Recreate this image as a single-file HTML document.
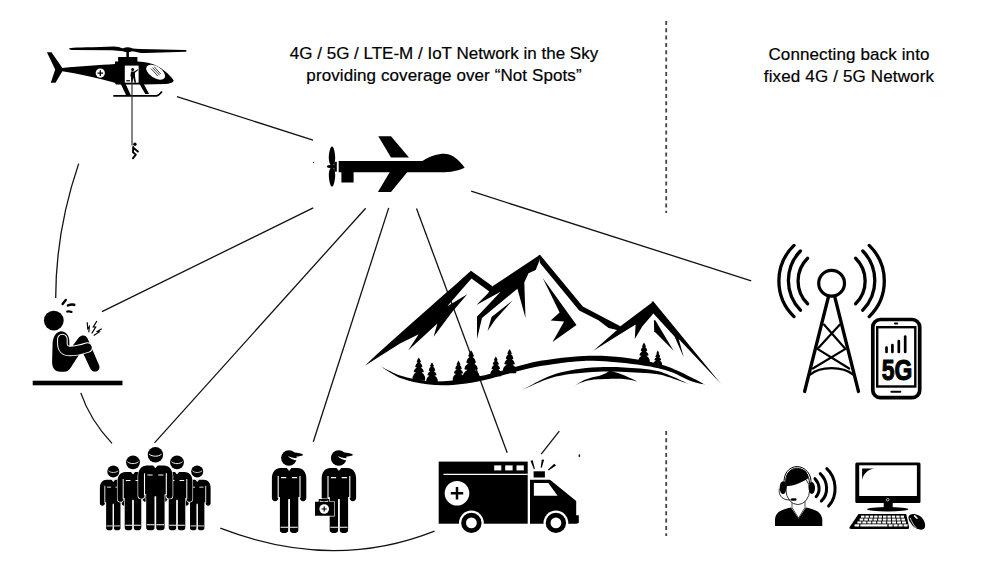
<!DOCTYPE html>
<html><head><meta charset="utf-8">
<style>
html,body{margin:0;padding:0;background:#fff;}
body{width:1000px;height:562px;position:relative;overflow:hidden;font-family:"Liberation Sans",sans-serif;color:#000;}
.t{position:absolute;font-size:17px;line-height:22px;white-space:nowrap;text-align:center;-webkit-text-stroke:0.2px #000;}
svg{position:absolute;left:0;top:0;}
</style></head>
<body>
<div class="t" id="t1" style="left:244px;top:42.5px;width:400px;line-height:22.2px;">4G / 5G / LTE-M / IoT Network in the Sky<br><span style="letter-spacing:0.09px">providing coverage over “Not Spots”</span></div>
<div class="t" id="t2" style="left:749px;top:43.8px;width:200px;line-height:22.2px;"><span style="letter-spacing:0.12px">Connecting back into</span><br><span style="letter-spacing:0.15px">fixed 4G / 5G Network</span></div>
<svg width="1000" height="562" viewBox="0 0 1000 562">


<g stroke="#444" stroke-width="1.8" stroke-dasharray="4 3.3">
<line x1="666.2" y1="21" x2="666.2" y2="213"/>
<line x1="666.2" y1="431" x2="666.2" y2="536"/>
</g>
<g stroke="#111" stroke-width="1.3" fill="none">
<line x1="177" y1="96.6" x2="313" y2="140.2"/>
<path d="M78.7,163.6 Q55.7,231 55.7,298"/>
<line x1="102" y1="311.6" x2="313.2" y2="207.9"/>
<line x1="365.7" y1="208.2" x2="154.5" y2="442.9"/>
<line x1="388.7" y1="207.9" x2="313.3" y2="441.8"/>
<line x1="416.5" y1="208.5" x2="507.2" y2="452.8"/>
<line x1="471.2" y1="191.2" x2="751.2" y2="280.8"/>
<path d="M80.8,392.9 Q90,420 112,443.4"/>
<path d="M220.3,528.2 Q332.6,571.6 434.5,531.1"/>
<line x1="559.3" y1="431.2" x2="541.2" y2="454.1"/>
</g>
<g id="drone" fill="#000">
<path d="M332,146.6 C334,146.6 335.2,154 335.2,158 C335.2,162 334,165 332,166.6 C330,165 328.8,162 328.8,158 C328.8,154 330,146.6 332,146.6Z M332,166.6 C334,168 335.2,171 335.2,175 C335.2,179 334,186.7 332,186.7 C330,186.7 328.8,179 328.8,175 C328.8,171 330,168 332,166.6Z"/>
<path d="M326.8,166.4 C326.8,165 329,164.9 332,164.9 L336,164.9 L336,168 L332,168 C329,168 326.8,167.8 326.8,166.4Z"/>
<rect x="334.2" y="161.8" width="2.6" height="9.9"/>
<path d="M338.7,161.1 L422.4,161.1 C430,156 438,153.8 444,153.8 C452,153.8 459,160 464.7,167.7 C458,170.5 452,172.3 440,172.3 L407.2,172.3 L391,191.9 L377.9,191.9 L389.7,172.3 L353.6,172.3 L353.6,182.6 L341.4,182.6 L341.4,172.3 L338.7,172.3Z"/>
<path d="M378.3,136.2 L391,136.2 L409,157.6 L391,157.6Z"/>
<circle cx="313.5" cy="162.3" r="0.6"/>
</g>
<g id="heli">
<path fill="#000" d="M46.9,52.3 L51.5,52.3 L62.4,67.9 C80,66.5 100,65 115,64 L115,61.4 L118.1,61.4 L118.1,57.1 L137.4,57.1 L137.4,61.4 C146,61.6 153,63.5 158,66.5 C165,70.5 171,76 173.7,80.5 C173.5,82 171,83.5 166,84 C158,84.4 150,84.4 142,84.4 L116,84.4 L114.8,82.7 C97,78 80,74 62.4,71.2 L55.5,82.7 L50.8,82.7 L55.2,69.5Z"/>
<path fill="#000" d="M69.1,48.6 C69.2,47.6 80,47.4 100,47 L114,46.5 C117.5,46.6 120,47.4 123,48.4 L123,51.2 C119,51 116,50.3 112,50.2 L72,50.1 C70,50 69,49.4 69.1,48.6Z"/>
<path fill="#000" d="M132,48.6 C135,48.8 137.5,48.8 140,48.9 L185.5,50.1 C187,50.5 187,51.5 185.8,51.8 L145,53 C140,53 136.5,52 132,51.2Z"/>
<ellipse cx="127.6" cy="49.8" rx="5.6" ry="2.5" fill="#000"/>
<rect x="126.4" y="51" width="2.5" height="6.5" fill="#000"/>
<path fill="#000" d="M120.8,84 L125.6,84 L131,95.5 L126.2,95.5Z M139.5,84 L143.8,84 L149.1,94 L145.3,94Z"/>
<path fill="none" stroke="#000" stroke-width="1.7" d="M113.3,95.8 L156,95.8 C158.5,95.8 160,94 161.9,91.4"/>
<rect x="124.8" y="65.6" width="13.8" height="17.1" fill="#fff"/>
<rect x="126.2" y="80.2" width="3.8" height="1.1" fill="#000"/>
<circle cx="132.6" cy="69.4" r="1.5" fill="#000"/>
<path fill="#000" d="M131,71.4 L134.2,71.4 L137.8,69.2 L138.2,70 L135,72.8 L135,76.5 L136,82.7 L134.6,82.7 L133.2,77.5 L132.5,82.7 L131.2,82.7 L131,76.5 L130.4,76.5 Z"/>
<ellipse cx="155.6" cy="72.2" rx="10.6" ry="5.8" transform="rotate(33 155.6 72.2)" fill="#fff"/>
<path stroke="#000" stroke-width="0.75" d="M152.6,67.6 L159.6,75.2 M151,68.6 L158,76.2 M154.2,66.8 L160.8,74"/>
<circle cx="100.3" cy="73.1" r="4.6" fill="#fff"/>
<path stroke="#000" stroke-width="1.3" d="M97.5,73.1 L103.1,73.1 M100.3,70.3 L100.3,75.9"/>
<line x1="132" y1="83" x2="132" y2="145.5" stroke="#333" stroke-width="1.2"/>
<circle cx="134.9" cy="144.2" r="1.7" fill="#000"/>
<path fill="none" stroke="#000" stroke-width="1.9" stroke-linecap="round" stroke-linejoin="round" d="M133.2,147 L133,152.2 L135.8,154.6 L132.9,158.3 M133.6,148 L137.9,151.6"/>
</g>
<g id="sad">
<circle cx="53.8" cy="320.6" r="9.9" fill="#000"/>
<path fill="#000" d="M61,331.3 C56,331.8 53,337 52.6,343 L52.1,362 C52.1,368 55,371.7 60,371.7 L64,371.7 C67,371.7 69,370.2 70.5,368 L79.5,354 L83.5,354 L89.8,367.5 C91,370.5 93,371.6 95.2,371.6 C98.5,371.4 100.2,368.5 99.2,365.5 L87.6,338.5 C86.3,335.6 84.2,335 82,335.6 C80,336.2 78.2,338 76.2,341 L69.5,350 L69.3,340 C68.8,335 65.5,331.3 61,331.3Z"/>
<path fill="none" stroke="#fff" stroke-width="10.6" stroke-linecap="round" stroke-linejoin="round" d="M62.4,339 L62.4,344 C62.6,348.5 65,351 70,351 C76,351 82,349.5 87.5,347.6"/>
<path fill="none" stroke="#000" stroke-width="8.6" stroke-linecap="round" stroke-linejoin="round" d="M62.4,339 L62.4,344 C62.6,348.5 65,351 70,351 C76,351 82,349.5 87.5,347.6"/>
<path fill="none" stroke="#000" stroke-linecap="round" d="M65.8,300 L62.6,304" stroke-width="2.4"/>
<path fill="none" stroke="#000" stroke-linecap="round" d="M68,305.4 C70,304.6 72.5,304.3 74.2,304.8" stroke-width="2.6"/>
<path fill="none" stroke="#000" stroke-linecap="round" d="M67.2,311.6 C68.5,311.2 70,311.3 71.6,311.9" stroke-width="2.1"/>
<path fill="none" stroke="#000" stroke-width="1.2" stroke-linejoin="miter" d="M87.2,322.2 L87.8,328.7 L89.3,326.7 L88.8,332.3 M96.9,321 L93.3,327 L95.7,327 L91.7,333.5 M101.7,328.7 L97.3,331.5 L99.3,331.9 L93.7,335.5"/>
<rect x="32.7" y="380.7" width="89.8" height="4.6" fill="#000"/>
</g>
<g id="team">
<g transform="translate(113.3,530.3) scale(0.78)">
<path fill="#000" stroke="#fff" stroke-width="1.3" paint-order="stroke" d="M-8.6,-64.9 L8.6,-64.9 C13.5,-64.9 17.2,-61 17.2,-54.5 L17.2,-34.8 C17.2,-32.8 15.8,-31.6 14,-31.6 C12.2,-31.6 10.8,-32.8 10.8,-34.8 L10.8,-36 L9.2,-36 L9.2,-2.8 C9.2,-1 8,0 6.5,0 L3.5,0 C1.8,0 0.8,-1 0.8,-2.8 L0.8,-34 L-0.8,-34 L-0.8,-2.8 C-0.8,-1 -1.8,0 -3.5,0 L-6.5,0 C-8,0 -9.2,-1 -9.2,-2.8 L-9.2,-36 L-10.8,-36 L-10.8,-34.8 C-10.8,-32.8 -12.2,-31.6 -14,-31.6 C-15.8,-31.6 -17.2,-32.8 -17.2,-34.8 L-17.2,-54.5 C-17.2,-61 -13.5,-64.9 -8.6,-64.9Z"/>
<circle cx="0" cy="-75.5" r="7.7" fill="#000" stroke="#fff" stroke-width="1.3" paint-order="stroke"/>
<g stroke="#fff" fill="none" stroke-width="1.1">
<path d="M-10.9,-57 L-10.9,-35"/><path d="M10.9,-57 L10.9,-35"/>
<path d="M0,-33 L0,-1"/>
<path d="M-8.6,-5.6 L-1,-5.6 M1,-5.6 L8.6,-5.6"/>
<path d="M-8,-55.3 L-2.8,-55.3 M2.8,-55.3 L8,-55.3"/>
<path d="M-2.2,-65.2 L0,-62.4 L2.2,-65.2Z" fill="#fff" stroke-width="0.6"/>
<path d="M-6.2,-76.2 C-3,-73.4 3,-73.4 6.2,-76.2" stroke-width="1"/>
</g>
</g>
<g transform="translate(197.2,530.3) scale(0.78)">
<path fill="#000" stroke="#fff" stroke-width="1.3" paint-order="stroke" d="M-8.6,-64.9 L8.6,-64.9 C13.5,-64.9 17.2,-61 17.2,-54.5 L17.2,-34.8 C17.2,-32.8 15.8,-31.6 14,-31.6 C12.2,-31.6 10.8,-32.8 10.8,-34.8 L10.8,-36 L9.2,-36 L9.2,-2.8 C9.2,-1 8,0 6.5,0 L3.5,0 C1.8,0 0.8,-1 0.8,-2.8 L0.8,-34 L-0.8,-34 L-0.8,-2.8 C-0.8,-1 -1.8,0 -3.5,0 L-6.5,0 C-8,0 -9.2,-1 -9.2,-2.8 L-9.2,-36 L-10.8,-36 L-10.8,-34.8 C-10.8,-32.8 -12.2,-31.6 -14,-31.6 C-15.8,-31.6 -17.2,-32.8 -17.2,-34.8 L-17.2,-54.5 C-17.2,-61 -13.5,-64.9 -8.6,-64.9Z"/>
<circle cx="0" cy="-75.5" r="7.7" fill="#000" stroke="#fff" stroke-width="1.3" paint-order="stroke"/>
<g stroke="#fff" fill="none" stroke-width="1.1">
<path d="M-10.9,-57 L-10.9,-35"/><path d="M10.9,-57 L10.9,-35"/>
<path d="M0,-33 L0,-1"/>
<path d="M-8.6,-5.6 L-1,-5.6 M1,-5.6 L8.6,-5.6"/>
<path d="M-8,-55.3 L-2.8,-55.3 M2.8,-55.3 L8,-55.3"/>
<path d="M-2.2,-65.2 L0,-62.4 L2.2,-65.2Z" fill="#fff" stroke-width="0.6"/>
<path d="M-6.2,-76.2 C-3,-73.4 3,-73.4 6.2,-76.2" stroke-width="1"/>
</g>
</g>
<g transform="translate(133,530.3) scale(0.9)">
<path fill="#000" stroke="#fff" stroke-width="1.3" paint-order="stroke" d="M-8.6,-64.9 L8.6,-64.9 C13.5,-64.9 17.2,-61 17.2,-54.5 L17.2,-34.8 C17.2,-32.8 15.8,-31.6 14,-31.6 C12.2,-31.6 10.8,-32.8 10.8,-34.8 L10.8,-36 L9.2,-36 L9.2,-2.8 C9.2,-1 8,0 6.5,0 L3.5,0 C1.8,0 0.8,-1 0.8,-2.8 L0.8,-34 L-0.8,-34 L-0.8,-2.8 C-0.8,-1 -1.8,0 -3.5,0 L-6.5,0 C-8,0 -9.2,-1 -9.2,-2.8 L-9.2,-36 L-10.8,-36 L-10.8,-34.8 C-10.8,-32.8 -12.2,-31.6 -14,-31.6 C-15.8,-31.6 -17.2,-32.8 -17.2,-34.8 L-17.2,-54.5 C-17.2,-61 -13.5,-64.9 -8.6,-64.9Z"/>
<circle cx="0" cy="-75.5" r="7.7" fill="#000" stroke="#fff" stroke-width="1.3" paint-order="stroke"/>
<g stroke="#fff" fill="none" stroke-width="1.1">
<path d="M-10.9,-57 L-10.9,-35"/><path d="M10.9,-57 L10.9,-35"/>
<path d="M0,-33 L0,-1"/>
<path d="M-8.6,-5.6 L-1,-5.6 M1,-5.6 L8.6,-5.6"/>
<path d="M-8,-55.3 L-2.8,-55.3 M2.8,-55.3 L8,-55.3"/>
<path d="M-2.2,-65.2 L0,-62.4 L2.2,-65.2Z" fill="#fff" stroke-width="0.6"/>
<path d="M-6.2,-76.2 C-3,-73.4 3,-73.4 6.2,-76.2" stroke-width="1"/>
</g>
</g>
<g transform="translate(177,530.3) scale(0.9)">
<path fill="#000" stroke="#fff" stroke-width="1.3" paint-order="stroke" d="M-8.6,-64.9 L8.6,-64.9 C13.5,-64.9 17.2,-61 17.2,-54.5 L17.2,-34.8 C17.2,-32.8 15.8,-31.6 14,-31.6 C12.2,-31.6 10.8,-32.8 10.8,-34.8 L10.8,-36 L9.2,-36 L9.2,-2.8 C9.2,-1 8,0 6.5,0 L3.5,0 C1.8,0 0.8,-1 0.8,-2.8 L0.8,-34 L-0.8,-34 L-0.8,-2.8 C-0.8,-1 -1.8,0 -3.5,0 L-6.5,0 C-8,0 -9.2,-1 -9.2,-2.8 L-9.2,-36 L-10.8,-36 L-10.8,-34.8 C-10.8,-32.8 -12.2,-31.6 -14,-31.6 C-15.8,-31.6 -17.2,-32.8 -17.2,-34.8 L-17.2,-54.5 C-17.2,-61 -13.5,-64.9 -8.6,-64.9Z"/>
<circle cx="0" cy="-75.5" r="7.7" fill="#000" stroke="#fff" stroke-width="1.3" paint-order="stroke"/>
<g stroke="#fff" fill="none" stroke-width="1.1">
<path d="M-10.9,-57 L-10.9,-35"/><path d="M10.9,-57 L10.9,-35"/>
<path d="M0,-33 L0,-1"/>
<path d="M-8.6,-5.6 L-1,-5.6 M1,-5.6 L8.6,-5.6"/>
<path d="M-8,-55.3 L-2.8,-55.3 M2.8,-55.3 L8,-55.3"/>
<path d="M-2.2,-65.2 L0,-62.4 L2.2,-65.2Z" fill="#fff" stroke-width="0.6"/>
<path d="M-6.2,-76.2 C-3,-73.4 3,-73.4 6.2,-76.2" stroke-width="1"/>
</g>
</g>
<g transform="translate(155.4,530.3)">
<path fill="#000" stroke="#fff" stroke-width="1.3" paint-order="stroke" d="M-8.6,-64.9 L8.6,-64.9 C13.5,-64.9 17.2,-61 17.2,-54.5 L17.2,-34.8 C17.2,-32.8 15.8,-31.6 14,-31.6 C12.2,-31.6 10.8,-32.8 10.8,-34.8 L10.8,-36 L9.2,-36 L9.2,-2.8 C9.2,-1 8,0 6.5,0 L3.5,0 C1.8,0 0.8,-1 0.8,-2.8 L0.8,-34 L-0.8,-34 L-0.8,-2.8 C-0.8,-1 -1.8,0 -3.5,0 L-6.5,0 C-8,0 -9.2,-1 -9.2,-2.8 L-9.2,-36 L-10.8,-36 L-10.8,-34.8 C-10.8,-32.8 -12.2,-31.6 -14,-31.6 C-15.8,-31.6 -17.2,-32.8 -17.2,-34.8 L-17.2,-54.5 C-17.2,-61 -13.5,-64.9 -8.6,-64.9Z"/>
<circle cx="0" cy="-75.5" r="7.7" fill="#000" stroke="#fff" stroke-width="1.3" paint-order="stroke"/>
<g stroke="#fff" fill="none" stroke-width="1.1">
<path d="M-10.9,-57 L-10.9,-35"/><path d="M10.9,-57 L10.9,-35"/>
<path d="M0,-33 L0,-1"/>
<path d="M-8.6,-5.6 L-1,-5.6 M1,-5.6 L8.6,-5.6"/>
<path d="M-8,-55.3 L-2.8,-55.3 M2.8,-55.3 L8,-55.3"/>
<path d="M-2.2,-65.2 L0,-62.4 L2.2,-65.2Z" fill="#fff" stroke-width="0.6"/>
<path d="M-6.2,-76.2 C-3,-73.4 3,-73.4 6.2,-76.2" stroke-width="1"/>
</g>
</g>
</g>
<g id="para">
<g transform="translate(289.1,532.9)">
<path fill="#000" stroke="#fff" stroke-width="1.3" paint-order="stroke" d="M-8.6,-64.9 L8.6,-64.9 C13.5,-64.9 17.2,-61 17.2,-54.5 L17.2,-34.8 C17.2,-32.8 15.8,-31.6 14,-31.6 C12.2,-31.6 10.8,-32.8 10.8,-34.8 L10.8,-36 L9.2,-36 L9.2,-2.8 C9.2,-1 8,0 6.5,0 L3.5,0 C1.8,0 0.8,-1 0.8,-2.8 L0.8,-34 L-0.8,-34 L-0.8,-2.8 C-0.8,-1 -1.8,0 -3.5,0 L-6.5,0 C-8,0 -9.2,-1 -9.2,-2.8 L-9.2,-36 L-10.8,-36 L-10.8,-34.8 C-10.8,-32.8 -12.2,-31.6 -14,-31.6 C-15.8,-31.6 -17.2,-32.8 -17.2,-34.8 L-17.2,-54.5 C-17.2,-61 -13.5,-64.9 -8.6,-64.9Z"/>
<g stroke="#fff" fill="none" stroke-width="1.1">
<path d="M-10.9,-57 L-10.9,-35"/><path d="M10.9,-57 L10.9,-35"/>
<path d="M0,-33 L0,-1"/>
<path d="M-8.6,-5.6 L-1,-5.6 M1,-5.6 L8.6,-5.6"/>
<path d="M-8,-55.3 L-2.8,-55.3 M2.8,-55.3 L8,-55.3"/>
<path d="M-2.2,-65.2 L0,-62.4 L2.2,-65.2Z" fill="#fff" stroke-width="0.6"/>
</g>
<circle cx="-0.2" cy="-74.9" r="7.8" fill="#000"/>
<path fill="#000" d="M1.5,-80.6 C6,-80.5 10,-80.2 13.2,-78.8 C14,-78.2 14,-77.6 13.4,-77.3 C11,-76.5 7,-75.9 3.5,-75.9Z"/>
<path fill="#fff" d="M-1.4,-77.2 C1,-75.8 4,-75 8.2,-74.6 L8.2,-72.3 C4,-72.8 1,-74.4 -1.4,-77.2Z"/>
</g>
<g transform="translate(338.9,532.9)">
<path fill="#000" stroke="#fff" stroke-width="1.3" paint-order="stroke" d="M-8.6,-64.9 L8.6,-64.9 C13.5,-64.9 17.2,-61 17.2,-54.5 L17.2,-34.8 C17.2,-32.8 15.8,-31.6 14,-31.6 C12.2,-31.6 10.8,-32.8 10.8,-34.8 L10.8,-36 L9.2,-36 L9.2,-2.8 C9.2,-1 8,0 6.5,0 L3.5,0 C1.8,0 0.8,-1 0.8,-2.8 L0.8,-34 L-0.8,-34 L-0.8,-2.8 C-0.8,-1 -1.8,0 -3.5,0 L-6.5,0 C-8,0 -9.2,-1 -9.2,-2.8 L-9.2,-36 L-10.8,-36 L-10.8,-34.8 C-10.8,-32.8 -12.2,-31.6 -14,-31.6 C-15.8,-31.6 -17.2,-32.8 -17.2,-34.8 L-17.2,-54.5 C-17.2,-61 -13.5,-64.9 -8.6,-64.9Z"/>
<g stroke="#fff" fill="none" stroke-width="1.1">
<path d="M-10.9,-57 L-10.9,-35"/><path d="M10.9,-57 L10.9,-35"/>
<path d="M0,-33 L0,-1"/>
<path d="M-8.6,-5.6 L-1,-5.6 M1,-5.6 L8.6,-5.6"/>
<path d="M-8,-55.3 L-2.8,-55.3 M2.8,-55.3 L8,-55.3"/>
<path d="M-2.2,-65.2 L0,-62.4 L2.2,-65.2Z" fill="#fff" stroke-width="0.6"/>
</g>
<circle cx="-0.2" cy="-74.9" r="7.8" fill="#000"/>
<path fill="#000" d="M1.5,-80.6 C6,-80.5 10,-80.2 13.2,-78.8 C14,-78.2 14,-77.6 13.4,-77.3 C11,-76.5 7,-75.9 3.5,-75.9Z"/>
<path fill="#fff" d="M-1.4,-77.2 C1,-75.8 4,-75 8.2,-74.6 L8.2,-72.3 C4,-72.8 1,-74.4 -1.4,-77.2Z"/>
</g>
<path fill="#000" stroke="#fff" stroke-width="1.2" paint-order="stroke" d="M318.7,499 L329.3,499 L329.3,501.8 L334,501.8 L334,515.8 L315,515.8 L315,501.8 L318.7,501.8Z"/>
<path fill="#fff" d="M319.8,500.6 C322,501.6 326,501.6 328.2,500.6 L328.2,501.8 L319.8,501.8Z"/>
<circle cx="324.2" cy="509" r="4.8" fill="#fff"/>
<path stroke="#000" stroke-width="1.2" d="M321.6,509 L326.8,509 M324.2,506.4 L324.2,511.6"/>
</g>
<g id="amb">
<rect x="438.7" y="461.6" width="89" height="62.1" fill="#000"/>
<path fill="#000" d="M530,479.7 L550,479.7 L576.2,500.9 L576.2,515.3 L578.8,515.3 L578.8,522.9 L576.2,523.7 L530,523.7Z"/>
<path stroke="#fff" stroke-width="1.3" d="M443.5,474.3 L527.7,474.3"/>
<rect x="494.2" y="465.4" width="7.1" height="5" fill="#fff"/>
<rect x="505.2" y="465.4" width="7.4" height="5" fill="#fff"/>
<rect x="516.5" y="465.4" width="7.3" height="5" fill="#fff"/>
<circle cx="457" cy="493.3" r="12.3" fill="#fff"/>
<path stroke="#000" stroke-width="2.5" d="M450.8,493.3 L463.2,493.3 M457,487.1 L457,499.5"/>
<path fill="#fff" d="M533.9,483.1 L548.3,483.1 L557.6,495.8 L533.9,495.8Z"/>
<rect x="533.6" y="471.3" width="11.3" height="6.2" fill="#000"/>
<path fill="#000" d="M530.5,460.8 L532.7,460.2 L534.9,469 L533.9,469.3Z M541.8,459.4 L544.1,459.7 L541.8,467.8 L540.7,467.6Z M554.2,463.8 L556,465.6 L548.6,470.6 L547.9,469.8Z"/>
<circle cx="471.4" cy="522.9" r="12.4" fill="#fff"/>
<circle cx="555.9" cy="522.9" r="12.4" fill="#fff"/>
<circle cx="471.4" cy="522.9" r="10.2" fill="#000"/>
<circle cx="555.9" cy="522.9" r="10.2" fill="#000"/>
<circle cx="471.4" cy="522.9" r="5.4" fill="#fff"/>
<circle cx="555.9" cy="522.9" r="5.4" fill="#fff"/>
<ellipse cx="579.4" cy="455.7" rx="0.8" ry="1.6" fill="#222"/>
</g>
<g id="trees" fill="#000">
<path transform="translate(418.8,357.6) scale(21,21)" d="M0,0 Q0.07,0.1 0.1,0.2 Q0.1,0.24 0.05,0.23 Q0.15,0.3 0.17,0.42 Q0.17,0.47 0.09,0.46 Q0.22,0.55 0.24,0.66 Q0.24,0.71 0.13,0.7 Q0.28,0.8 0.3,0.92 L0.3,1.1 L-0.3,1.1 L-0.3,0.92 Q-0.28,0.8 -0.13,0.7 Q-0.24,0.71 -0.24,0.66 Q-0.22,0.55 -0.09,0.46 Q-0.17,0.47 -0.17,0.42 Q-0.15,0.3 -0.05,0.23 Q-0.1,0.24 -0.1,0.2 Q-0.07,0.1 0,0Z"/>
<path transform="translate(432,362.2) scale(19,19)" d="M0,0 Q0.07,0.1 0.1,0.2 Q0.1,0.24 0.05,0.23 Q0.15,0.3 0.17,0.42 Q0.17,0.47 0.09,0.46 Q0.22,0.55 0.24,0.66 Q0.24,0.71 0.13,0.7 Q0.28,0.8 0.3,0.92 L0.3,1.1 L-0.3,1.1 L-0.3,0.92 Q-0.28,0.8 -0.13,0.7 Q-0.24,0.71 -0.24,0.66 Q-0.22,0.55 -0.09,0.46 Q-0.17,0.47 -0.17,0.42 Q-0.15,0.3 -0.05,0.23 Q-0.1,0.24 -0.1,0.2 Q-0.07,0.1 0,0Z"/>
<path transform="translate(458.5,360.5) scale(19,19)" d="M0,0 Q0.07,0.1 0.1,0.2 Q0.1,0.24 0.05,0.23 Q0.15,0.3 0.17,0.42 Q0.17,0.47 0.09,0.46 Q0.22,0.55 0.24,0.66 Q0.24,0.71 0.13,0.7 Q0.28,0.8 0.3,0.92 L0.3,1.1 L-0.3,1.1 L-0.3,0.92 Q-0.28,0.8 -0.13,0.7 Q-0.24,0.71 -0.24,0.66 Q-0.22,0.55 -0.09,0.46 Q-0.17,0.47 -0.17,0.42 Q-0.15,0.3 -0.05,0.23 Q-0.1,0.24 -0.1,0.2 Q-0.07,0.1 0,0Z"/>
<path transform="translate(471.1,350.2) scale(28,28)" d="M0,0 Q0.07,0.1 0.1,0.2 Q0.1,0.24 0.05,0.23 Q0.15,0.3 0.17,0.42 Q0.17,0.47 0.09,0.46 Q0.22,0.55 0.24,0.66 Q0.24,0.71 0.13,0.7 Q0.28,0.8 0.3,0.92 L0.3,1.1 L-0.3,1.1 L-0.3,0.92 Q-0.28,0.8 -0.13,0.7 Q-0.24,0.71 -0.24,0.66 Q-0.22,0.55 -0.09,0.46 Q-0.17,0.47 -0.17,0.42 Q-0.15,0.3 -0.05,0.23 Q-0.1,0.24 -0.1,0.2 Q-0.07,0.1 0,0Z"/>
<path transform="translate(495.8,356.5) scale(18,18)" d="M0,0 Q0.07,0.1 0.1,0.2 Q0.1,0.24 0.05,0.23 Q0.15,0.3 0.17,0.42 Q0.17,0.47 0.09,0.46 Q0.22,0.55 0.24,0.66 Q0.24,0.71 0.13,0.7 Q0.28,0.8 0.3,0.92 L0.3,1.1 L-0.3,1.1 L-0.3,0.92 Q-0.28,0.8 -0.13,0.7 Q-0.24,0.71 -0.24,0.66 Q-0.22,0.55 -0.09,0.46 Q-0.17,0.47 -0.17,0.42 Q-0.15,0.3 -0.05,0.23 Q-0.1,0.24 -0.1,0.2 Q-0.07,0.1 0,0Z"/>
<path transform="translate(509.6,349) scale(22,22)" d="M0,0 Q0.07,0.1 0.1,0.2 Q0.1,0.24 0.05,0.23 Q0.15,0.3 0.17,0.42 Q0.17,0.47 0.09,0.46 Q0.22,0.55 0.24,0.66 Q0.24,0.71 0.13,0.7 Q0.28,0.8 0.3,0.92 L0.3,1.1 L-0.3,1.1 L-0.3,0.92 Q-0.28,0.8 -0.13,0.7 Q-0.24,0.71 -0.24,0.66 Q-0.22,0.55 -0.09,0.46 Q-0.17,0.47 -0.17,0.42 Q-0.15,0.3 -0.05,0.23 Q-0.1,0.24 -0.1,0.2 Q-0.07,0.1 0,0Z"/>
<path transform="translate(644,342.5) scale(19,19)" d="M0,0 Q0.07,0.1 0.1,0.2 Q0.1,0.24 0.05,0.23 Q0.15,0.3 0.17,0.42 Q0.17,0.47 0.09,0.46 Q0.22,0.55 0.24,0.66 Q0.24,0.71 0.13,0.7 Q0.28,0.8 0.3,0.92 L0.3,1.1 L-0.3,1.1 L-0.3,0.92 Q-0.28,0.8 -0.13,0.7 Q-0.24,0.71 -0.24,0.66 Q-0.22,0.55 -0.09,0.46 Q-0.17,0.47 -0.17,0.42 Q-0.15,0.3 -0.05,0.23 Q-0.1,0.24 -0.1,0.2 Q-0.07,0.1 0,0Z"/>
<path transform="translate(657.8,350.5) scale(14,14)" d="M0,0 Q0.07,0.1 0.1,0.2 Q0.1,0.24 0.05,0.23 Q0.15,0.3 0.17,0.42 Q0.17,0.47 0.09,0.46 Q0.22,0.55 0.24,0.66 Q0.24,0.71 0.13,0.7 Q0.28,0.8 0.3,0.92 L0.3,1.1 L-0.3,1.1 L-0.3,0.92 Q-0.28,0.8 -0.13,0.7 Q-0.24,0.71 -0.24,0.66 Q-0.22,0.55 -0.09,0.46 Q-0.17,0.47 -0.17,0.42 Q-0.15,0.3 -0.05,0.23 Q-0.1,0.24 -0.1,0.2 Q-0.07,0.1 0,0Z"/>
</g>
<g id="mtn" fill="#000">
<path d="M364.9,365.7 C395,337.5 440,298.5 471,270.8 L492.5,286.2 L490,292 L471.5,278.5 L461.8,289.4 L447.3,306.2 L467.3,294.3 L452.3,311.8 L433.6,336.7 L437.4,323.6 L408.1,350.4 L418.7,334.2 L400,343.6Z"/>
<path d="M492.5,286.2 L540,254.8 L538.9,262 L535.7,270 L528.5,273.2 L524.3,282.4 L525.5,317.9 L517.4,288.7 L482,317.9 L477,339.1 L477,316.7 L500.6,291.8 L476.4,304.9 L488.2,293Z"/>
<path d="M512.5,300.5 L491.5,317 L487.6,331 L495,320Z"/>
<path d="M538.5,255.5 L540,254.8 L582.8,306.4 L620.4,326.3 L653.4,301.4 L653.4,313.6 L642.4,326.3 L634.8,338.9 L635.6,324.6 L593.4,350.8 L617,330 L608.6,328 L598.4,320.3 L579.2,310.5 L540,263Z"/>
<path d="M651.8,301.4 L653.4,301.4 L720.9,383.7 L678.7,339 L683.8,357.5 L674.5,336.4 L653.4,313.6 L651.5,313Z"/>
<path d="M542.7,277.9 L559.6,312.6 L550.7,320.6 L564.1,321.5 L552.5,342 L576.5,325Z"/>
<path d="M653.9,320.3 L655.3,320.3 L673.6,350.8 L654.2,331.3Z"/>
<path d="M380.2,366.0 C380.2,366.0 393.2,373.3 401.0,375.8 C408.8,378.3 418.3,380.4 427.0,381.2 C435.7,382.0 444.3,381.2 453.0,380.4 C461.7,379.6 471.2,377.8 479.0,376.3 C486.8,374.8 493.8,372.8 500.0,371.2 C506.2,369.6 509.0,368.6 516.0,366.8 C523.0,365.0 530.7,362.3 542.0,360.5 C553.3,358.7 570.4,356.4 584.0,355.9 C597.6,355.4 610.1,355.8 623.8,357.5 C637.5,359.2 652.5,361.5 666.0,366.0 C679.5,370.5 704.9,384.5 704.9,384.5 C704.9,384.5 697.9,383.6 691.4,381.2 C684.9,378.8 675.9,373.1 666.0,370.2 C656.1,367.3 645.7,365.6 632.0,364.0 C618.3,362.4 599.0,360.6 584.0,360.9 C569.0,361.2 553.3,364.0 542.0,365.8 C530.7,367.6 523.0,369.9 516.0,371.6 C509.0,373.3 506.2,374.4 500.0,376.0 C493.8,377.6 486.8,379.8 479.0,381.3 C471.2,382.8 461.7,384.4 453.0,384.9 C444.3,385.4 435.7,385.4 427.0,384.3 C418.3,383.2 408.8,381.4 401.0,378.3 C393.2,375.2 380.2,366.0 380.2,366.0Z"/>
<path d="M522.4,389.9 C522.4,389.9 534.4,383.2 540.0,380.5 C545.6,377.8 550.2,375.6 556.0,373.8 C561.8,372.0 568.0,370.6 575.0,369.5 C582.0,368.4 589.9,367.7 598.0,367.3 C606.1,366.9 613.9,366.8 623.8,367.4 C633.7,368.0 646.9,368.3 657.6,371.0 C668.3,373.7 688.0,383.7 688.0,383.7 C688.0,383.7 675.1,379.1 670.0,377.5 C664.9,375.9 662.6,375.1 657.6,374.3 C652.6,373.5 646.3,373.2 640.0,372.8 C633.7,372.4 627.0,372.0 620.0,371.8 C613.0,371.6 605.5,371.4 598.0,371.7 C590.5,372.0 582.0,372.7 575.0,373.5 C568.0,374.3 561.8,375.2 556.0,376.6 C550.2,378.0 545.6,379.8 540.0,382.0 C534.4,384.2 522.4,389.9 522.4,389.9Z"/>
<path d="M572.8,387.1 C572.8,387.1 579.0,382.8 582.0,381.2 C585.0,379.6 587.8,378.8 591.0,377.8 C594.2,376.8 598.3,376.2 601.0,375.3 C603.7,374.4 605.6,373.3 607.0,372.5 C608.4,371.7 609.5,370.6 609.5,370.6 C609.5,370.6 617.4,372.8 622.0,374.6 C626.6,376.4 637.2,381.3 637.2,381.3 C637.2,381.3 631.0,379.8 628.0,379.4 C625.0,379.0 622.8,378.8 619.0,378.7 C615.2,378.6 609.7,378.8 605.0,379.0 C600.3,379.2 595.2,379.2 591.0,379.9 C586.8,380.6 583.0,381.8 580.0,383.0 C577.0,384.2 572.8,387.1 572.8,387.1Z"/>
</g>
<g id="tower" fill="none" stroke="#000" stroke-linecap="round">
<circle cx="831.6" cy="283.3" r="12.9" stroke-width="3.2"/>
<path stroke-width="3.3" d="M828.4,297 L804.6,391.5 M834.8,297 L858.5,391.5"/>
<path stroke-width="2.2" d="M824,324.6 L845.5,348.9 M839.9,324.6 L817.4,348.9 M817.4,348.9 L849.2,368.5 M845.5,348.9 L812.8,368.5 M810.5,374.5 C820,366 843,366 852.8,374.5"/>
<g stroke-width="3.3">
<path d="M794,245.4 A49.5,49.5 0 0 0 794,316.6"/>
<path d="M800.4,251 A42.5,42.5 0 0 0 800.4,310.2"/>
<path d="M807.6,258.2 A32,32 0 0 0 807.6,303.8"/>
<path d="M869.2,245.4 A49.5,49.5 0 0 1 869.2,316.6"/>
<path d="M862.8,251 A42.5,42.5 0 0 1 862.8,310.2"/>
<path d="M855.6,258.2 A32,32 0 0 1 855.6,303.8"/>
</g>
</g>
<g id="phone">
<rect x="872.8" y="319.5" width="46.9" height="78.2" rx="7.5" fill="none" stroke="#000" stroke-width="3.7"/>
<rect x="877.2" y="327.2" width="38.1" height="59.3" fill="none" stroke="#000" stroke-width="2.4"/>
<rect x="894" y="322.5" width="4.2" height="1.9" rx="0.9" fill="#000"/>
<rect x="890.4" y="390.8" width="10.9" height="2" rx="1" fill="#000"/>
<g stroke="#000" stroke-width="2.7" stroke-linecap="round">
<path d="M886.5,347.5 L886.5,352"/><path d="M892.4,345 L892.4,352"/><path d="M898.8,341 L898.8,352"/><path d="M905.2,336.6 L905.2,352"/>
</g>
<text x="0" y="0" transform="translate(881.8,379.6) scale(0.79,1)" font-family="Liberation Sans" font-weight="bold" font-size="29" fill="#000" stroke="#000" stroke-width="1">5G</text>
</g>
<g id="operator">
<path fill="#000" d="M775,526 L775,519 C776,512 781,509.5 791,507.5 L798.5,518.5 L806,507.5 C816,509.5 821,512 822.3,519 L822.3,526Z"/>
<path fill="#fff" stroke="#000" stroke-width="0.7" d="M792,500 L792,507.5 L798.5,518 L805,507.5 L805,500Z"/>
<ellipse cx="797.8" cy="490" rx="11.8" ry="14.6" fill="#fff" stroke="#000" stroke-width="0.8"/>
<path fill="#000" d="M786.2,486 C785.5,480 786,474 790,470.5 C793,468.3 800,468 804,470 C807.5,472 808.5,476 807.8,478.8 C805,480.5 801,482.5 795.8,484.4 C792,485.5 789,486 786.2,486Z"/>
<path fill="none" stroke="#000" stroke-width="1" d="M784.2,484 C783,474 789,466.6 797,466.6 C805,466.6 812,474 811,484 M785.6,484 C784.8,475 790,468.2 797,468.2 C804,468.2 809.8,475 809.4,484"/>
<ellipse cx="783" cy="487.6" rx="3.3" ry="6.4" fill="#000"/>
<ellipse cx="811.8" cy="488" rx="3.2" ry="6" fill="#000"/>
<path fill="none" stroke="#000" stroke-width="0.8" d="M779.4,488.5 C778.6,493 780,497.5 785,499.3 C788,500.3 791,500 793,499.6"/>
<rect x="791" y="498.3" width="5.5" height="2.4" rx="1.2" fill="#000"/>
<g fill="none" stroke="#000" stroke-width="3" stroke-linecap="round">
<path d="M815,478.7 C820,484 820.5,492 816.1,496.7"/>
<path d="M820.2,473.7 C828,481 829,494 821.3,501.1"/>
<path d="M826.8,468.7 C837,478 838,496 828.6,506.1"/>
</g>
</g>
<g id="computer">
<rect x="855.3" y="462.4" width="65.2" height="40.7" rx="1.5" fill="#000"/>
<rect x="859.2" y="465.3" width="57.7" height="30.7" fill="#fff"/>
<path fill="#000" d="M862.1,468.5 L874.2,468.5 C868,469.5 863.5,473.5 862.1,479.9Z"/>
<circle cx="887.7" cy="499.7" r="1.3" fill="none" stroke="#fff" stroke-width="0.7"/>
<rect x="883.7" y="502.5" width="9" height="5.5" fill="#000"/>
<ellipse cx="887.7" cy="509.2" rx="20.7" ry="2.2" fill="#000"/>
<path fill="#000" d="M858.5,514.1 L906.2,514.1 L909.1,527.2 C909.3,528.4 908.6,529 907.5,529 L851,529 C849.8,529 849.1,528.3 849.5,527.3Z"/>
<g fill="#fff">
<rect x="861.00" y="515.6" width="3.40" height="2.1"/><rect x="865.40" y="515.6" width="3.40" height="2.1"/><rect x="869.80" y="515.6" width="3.40" height="2.1"/><rect x="874.20" y="515.6" width="3.40" height="2.1"/><rect x="878.60" y="515.6" width="3.40" height="2.1"/><rect x="883.00" y="515.6" width="3.40" height="2.1"/><rect x="887.40" y="515.6" width="3.40" height="2.1"/><rect x="891.80" y="515.6" width="3.40" height="2.1"/><rect x="896.20" y="515.6" width="3.40" height="2.1"/><rect x="900.60" y="515.6" width="3.40" height="2.1"/>
<rect x="859.60" y="518.5" width="3.64" height="2.1"/><rect x="864.24" y="518.5" width="3.64" height="2.1"/><rect x="868.88" y="518.5" width="3.64" height="2.1"/><rect x="873.52" y="518.5" width="3.64" height="2.1"/><rect x="878.16" y="518.5" width="3.64" height="2.1"/><rect x="882.80" y="518.5" width="3.64" height="2.1"/><rect x="887.44" y="518.5" width="3.64" height="2.1"/><rect x="892.08" y="518.5" width="3.64" height="2.1"/><rect x="896.72" y="518.5" width="3.64" height="2.1"/><rect x="901.36" y="518.5" width="3.64" height="2.1"/>
<rect x="857.40" y="521.4" width="3.96" height="2.1"/><rect x="862.36" y="521.4" width="3.96" height="2.1"/><rect x="867.32" y="521.4" width="3.96" height="2.1"/><rect x="872.28" y="521.4" width="3.96" height="2.1"/><rect x="877.24" y="521.4" width="3.96" height="2.1"/><rect x="882.20" y="521.4" width="3.96" height="2.1"/><rect x="887.16" y="521.4" width="3.96" height="2.1"/><rect x="892.12" y="521.4" width="3.96" height="2.1"/><rect x="897.08" y="521.4" width="3.96" height="2.1"/><rect x="902.04" y="521.4" width="3.96" height="2.1"/>
<rect x="854.6" y="524.3" width="4.6" height="2.2"/><rect x="860.4" y="524.3" width="27" height="2.2"/><rect x="888.60" y="524.3" width="4" height="2.2"/><rect x="893.60" y="524.3" width="4" height="2.2"/><rect x="898.60" y="524.3" width="4" height="2.2"/><rect x="903.60" y="524.3" width="4" height="2.2"/>
</g>
<path fill="#000" d="M908.7,516.3 C910.2,513.3 915,513.3 919,515.5 C923.5,518 925.8,523 925,527 C924.2,530 920.5,530.2 917,528.8 C913,527 911,523.5 909.4,521 C908.5,519.4 908.2,517.7 908.7,516.3Z"/>
<path fill="none" stroke="#fff" stroke-width="0.8" d="M910,517.8 C911.6,521.6 913.6,525.3 916.3,527.9"/>
<path fill="none" stroke="#fff" stroke-width="1.6" stroke-linecap="round" d="M914.6,515.8 L917,518.2"/>
</g>
</svg>
</body></html>
